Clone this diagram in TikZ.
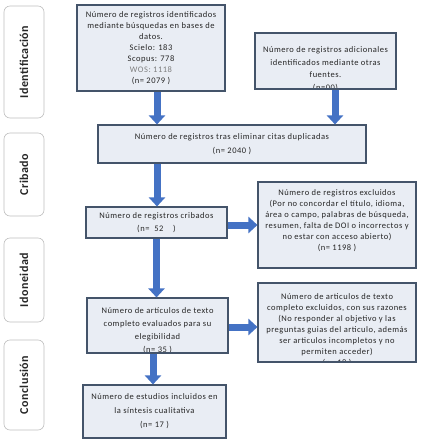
\documentclass[tikz,border=0pt]{standalone}
\usepackage{fontspec}
\setmainfont{Carlito}
\newfontfamily\bxfont[LetterSpace=6]{Carlito}
\newfontfamily\phfont[LetterSpace=4]{Carlito}
\usetikzlibrary{arrows.meta,calc}
\definecolor{boxfill}{HTML}{E9EDF4}
\definecolor{boxline}{HTML}{44546A}
\definecolor{arrowblue}{HTML}{4472C4}
\definecolor{phaseline}{HTML}{BFBFBF}
\definecolor{wosgray}{HTML}{7F7F7F}
\definecolor{txt}{HTML}{262626}
\begin{document}
\begin{tikzpicture}[x=1pt,y=-1pt,
  box/.style={draw=boxline, line width=1.1pt, fill=boxfill, align=center, inner sep=0pt,
    text=txt, font=\bxfont\fontsize{8.5}{11}\selectfont},
  boxtext/.style={align=center, inner sep=0pt, text=txt, font=\bxfont\fontsize{8.5}{11}\selectfont},
  phase/.style={draw=phaseline, line width=0.6pt, rounded corners=6pt, fill=white,
    rotate=90, minimum height=40pt, text=txt, font=\phfont\fontsize{12}{14}\selectfont\bfseries},
  flow/.style={draw=arrowblue, line width=7pt, -{Triangle[length=9pt,width=16pt]}},
]
\useasboundingbox (0,0) rectangle (424,440);

% phase labels
\node[phase, minimum width=112pt] (p1) at (24,62) {Identificación};
\node[phase, minimum width=83pt] (p2) at (24,174.5) {Cribado};
\node[phase, minimum width=84pt] (p3) at (24,280) {Idoneidad};
\node[phase, minimum width=90pt] (p4) at (24,385) {Conclusión};

% boxes
\node[box, minimum width=148pt, minimum height=86pt] (A) at (151,48)
  {Número de registros identificados\\ mediante búsquedas en bases de\\ datos.\\ Scielo: 183\\ Scopus: 778\\ \textcolor{wosgray}{WOS: 1118}\\ (n= 2079 )};

\node[box, minimum width=141pt, minimum height=56pt,
  path picture={\node[boxtext, font=\bxfont\fontsize{8.5}{12.5}\selectfont] (Bt) at ([yshift=-8pt]path picture bounding box.center)
  {Número de registros adicionales\\ identificados mediante otras\\ fuentes.\\ (n=00)};}] (B) at (325.5,61) {};

\node[box, minimum width=268pt, minimum height=38pt, font=\bxfont\fontsize{8.5}{14}\selectfont] (C) at (232,144)
  {Número de registros tras eliminar citas duplicadas\\ (n=~2040~)};

\node[box, minimum width=141pt, minimum height=31pt, font=\bxfont\fontsize{8.5}{13}\selectfont] (D) at (156.5,222.5)
  {Número de registros cribados\\ (n=~~52~~~~)};

\node[box, minimum width=158pt, minimum height=86pt] (E) at (337,225) {};
\node[boxtext, anchor=center] (Et) at ([yshift=4pt]E.center)
  {Número de registros excluidos\\ (Por no concordar el título, idioma,\\ área o campo, palabras de búsqueda,\\ resumen, falta de DOI o incorrectos y\\ no estar con acceso abierto)\\ (n= 1198 )};

\node[box, minimum width=141pt, minimum height=55pt,
  path picture={\node[boxtext, font=\bxfont\fontsize{8.5}{13}\selectfont] (Gt) at ([yshift=-5pt]path picture bounding box.center)
  {Número de artículos de texto\\ completo evaluados para su\\ elegibilidad\\ (n= 35 )};}] (G) at (157.5,325.5) {};

\node[box, minimum width=158pt, minimum height=79pt,
  path picture={\node[boxtext] (Ft) at ([yshift=-8pt]path picture bounding box.center)
  {Número de articulos de texto\\ completo excluidos, con sus razones\\ (No responder al objetivo y las\\ preguntas guias del articulo, además\\ ser articulos incompletos y no\\ permiten acceder)\\ (n= 18 )};}] (F) at (337,322.5) {};

\node[box, minimum width=143pt, minimum height=53pt, font=\bxfont\fontsize{8.5}{14}\selectfont] (H) at (154.5,411.5)
  {Número de estudios incluidos en\\ la síntesis cualitativa\\ (n= 17 )};

% connectors
\draw[flow] ([xshift=6pt]A.south) -- ([xshift=6pt]A.south |- C.north);
\draw[flow] ([xshift=9.5pt]B.south) -- ([xshift=9.5pt]B.south |- C.north);
\draw[flow] ([xshift=0.5pt]D.north |- C.south) -- ([xshift=0.5pt]D.north);
\draw[flow] ([yshift=-2.5pt]D.east) -- ([yshift=-2.5pt]D.east -| E.west);
\draw[flow] (D.south) -- (D.south |- G.north);
\draw[flow] ([yshift=-1.5pt]G.east) -- ([yshift=-1.5pt]G.east -| F.west);
\draw[flow] ([xshift=-4.5pt]G.south) -- ([xshift=-4.5pt]G.south |- H.north);
\end{tikzpicture}
\end{document}
